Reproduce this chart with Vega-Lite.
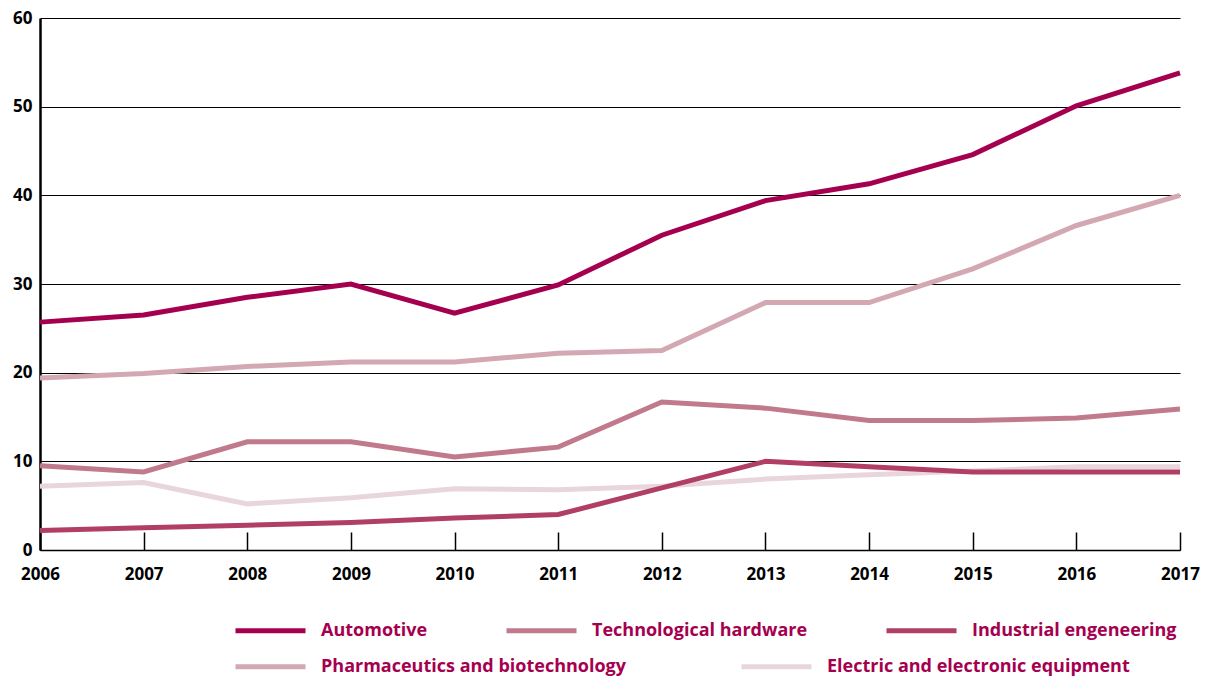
{
  "$schema": "https://vega.github.io/schema/vega-lite/v6.json",
  "width": 1140,
  "height": 532,
  "autosize": "none",
  "padding": {"left": 40, "top": 18, "right": 26, "bottom": 127},
  "background": "white",
  "config": {
    "view": {"stroke": null},
    "font": "Open Sans"
  },
  "data": {
    "values": [
      {"year": 2006, "sector": "Automotive", "value": 25.7},
      {"year": 2007, "sector": "Automotive", "value": 26.5},
      {"year": 2008, "sector": "Automotive", "value": 28.5},
      {"year": 2009, "sector": "Automotive", "value": 30.0},
      {"year": 2010, "sector": "Automotive", "value": 26.7},
      {"year": 2011, "sector": "Automotive", "value": 29.9},
      {"year": 2012, "sector": "Automotive", "value": 35.5},
      {"year": 2013, "sector": "Automotive", "value": 39.4},
      {"year": 2014, "sector": "Automotive", "value": 41.3},
      {"year": 2015, "sector": "Automotive", "value": 44.6},
      {"year": 2016, "sector": "Automotive", "value": 50.1},
      {"year": 2017, "sector": "Automotive", "value": 53.8},
      {"year": 2006, "sector": "Technological hardware", "value": 9.5},
      {"year": 2007, "sector": "Technological hardware", "value": 8.8},
      {"year": 2008, "sector": "Technological hardware", "value": 12.2},
      {"year": 2009, "sector": "Technological hardware", "value": 12.2},
      {"year": 2010, "sector": "Technological hardware", "value": 10.5},
      {"year": 2011, "sector": "Technological hardware", "value": 11.6},
      {"year": 2012, "sector": "Technological hardware", "value": 16.7},
      {"year": 2013, "sector": "Technological hardware", "value": 16.0},
      {"year": 2014, "sector": "Technological hardware", "value": 14.6},
      {"year": 2015, "sector": "Technological hardware", "value": 14.6},
      {"year": 2016, "sector": "Technological hardware", "value": 14.9},
      {"year": 2017, "sector": "Technological hardware", "value": 15.9},
      {"year": 2006, "sector": "Industrial engeneering", "value": 2.2},
      {"year": 2007, "sector": "Industrial engeneering", "value": 2.5},
      {"year": 2008, "sector": "Industrial engeneering", "value": 2.8},
      {"year": 2009, "sector": "Industrial engeneering", "value": 3.1},
      {"year": 2010, "sector": "Industrial engeneering", "value": 3.6},
      {"year": 2011, "sector": "Industrial engeneering", "value": 4.0},
      {"year": 2012, "sector": "Industrial engeneering", "value": 7.0},
      {"year": 2013, "sector": "Industrial engeneering", "value": 10.0},
      {"year": 2014, "sector": "Industrial engeneering", "value": 9.4},
      {"year": 2015, "sector": "Industrial engeneering", "value": 8.8},
      {"year": 2016, "sector": "Industrial engeneering", "value": 8.8},
      {"year": 2017, "sector": "Industrial engeneering", "value": 8.8},
      {"year": 2006, "sector": "Pharmaceutics and biotechnology", "value": 19.4},
      {"year": 2007, "sector": "Pharmaceutics and biotechnology", "value": 19.9},
      {"year": 2008, "sector": "Pharmaceutics and biotechnology", "value": 20.7},
      {"year": 2009, "sector": "Pharmaceutics and biotechnology", "value": 21.2},
      {"year": 2010, "sector": "Pharmaceutics and biotechnology", "value": 21.2},
      {"year": 2011, "sector": "Pharmaceutics and biotechnology", "value": 22.2},
      {"year": 2012, "sector": "Pharmaceutics and biotechnology", "value": 22.5},
      {"year": 2013, "sector": "Pharmaceutics and biotechnology", "value": 27.9},
      {"year": 2014, "sector": "Pharmaceutics and biotechnology", "value": 27.9},
      {"year": 2015, "sector": "Pharmaceutics and biotechnology", "value": 31.7},
      {"year": 2016, "sector": "Pharmaceutics and biotechnology", "value": 36.6},
      {"year": 2017, "sector": "Pharmaceutics and biotechnology", "value": 40.0},
      {"year": 2006, "sector": "Electric and electronic equipment", "value": 7.2},
      {"year": 2007, "sector": "Electric and electronic equipment", "value": 7.6},
      {"year": 2008, "sector": "Electric and electronic equipment", "value": 5.2},
      {"year": 2009, "sector": "Electric and electronic equipment", "value": 5.9},
      {"year": 2010, "sector": "Electric and electronic equipment", "value": 6.9},
      {"year": 2011, "sector": "Electric and electronic equipment", "value": 6.8},
      {"year": 2012, "sector": "Electric and electronic equipment", "value": 7.2},
      {"year": 2013, "sector": "Electric and electronic equipment", "value": 8.0},
      {"year": 2014, "sector": "Electric and electronic equipment", "value": 8.5},
      {"year": 2015, "sector": "Electric and electronic equipment", "value": 8.9},
      {"year": 2016, "sector": "Electric and electronic equipment", "value": 9.4},
      {"year": 2017, "sector": "Electric and electronic equipment", "value": 9.4}
    ]
  },
  "encoding": {
    "x": {
      "field": "year",
      "type": "quantitative",
      "scale": {"domain": [2006, 2017], "nice": false, "zero": false},
      "axis": {
        "title": null,
        "values": [2006, 2007, 2008, 2009, 2010, 2011, 2012, 2013, 2014, 2015, 2016, 2017],
        "format": "d",
        "grid": false,
        "domainColor": "#000000",
        "domainWidth": 1.5,
        "tickColor": "#000000",
        "tickWidth": 1.5,
        "tickSize": -18,
        "labelPadding": 34,
        "labelFont": "Open Sans",
        "labelFontWeight": "bold",
        "labelFontSize": 17,
        "labelColor": "#000000",
        "labelFlush": false
      }
    },
    "y": {
      "field": "value",
      "type": "quantitative",
      "scale": {"domain": [0, 60], "nice": false},
      "axis": {
        "title": null,
        "values": [0, 10, 20, 30, 40, 50, 60],
        "grid": true,
        "gridColor": "#000000",
        "gridWidth": 1,
        "gridOpacity": 1,
        "ticks": false,
        "domainColor": "#000000",
        "domainWidth": 2.5,
        "labelPadding": 8,
        "labelFont": "Open Sans",
        "labelFontWeight": "bold",
        "labelFontSize": 17,
        "labelColor": "#000000"
      }
    }
  },
  "layer": [
    {
      "transform": [{"filter": {"field": "sector", "oneOf": ["Pharmaceutics and biotechnology", "Electric and electronic equipment"]}}],
      "mark": {"type": "line", "strokeWidth": 5, "strokeJoin": "miter"},
      "encoding": {
        "stroke": {
          "field": "sector",
          "type": "nominal",
          "sort": ["Pharmaceutics and biotechnology", "Electric and electronic equipment"],
          "scale": {
            "domain": ["Pharmaceutics and biotechnology", "Electric and electronic equipment"],
            "range": ["#d3a8b3", "#e8d6dc"]
          },
          "legend": {
            "title": null,
            "orient": "none",
            "legendX": 193,
            "legendY": 611,
            "direction": "horizontal",
            "columns": 2,
            "gridAlign": "each",
            "columnPadding": 105,
            "symbolType": "stroke",
            "symbolSize": 4900,
            "symbolStrokeWidth": 5,
            "labelOffset": 13,
            "labelFont": "Open Sans",
            "labelFontWeight": "bold",
            "labelFontSize": 18,
            "labelColor": "#a5004f",
            "labelLimit": 500
          }
        }
      }
    },
    {
      "transform": [{"filter": {"field": "sector", "oneOf": ["Automotive", "Technological hardware", "Industrial engeneering"]}}],
      "mark": {"type": "line", "strokeWidth": 5, "strokeJoin": "miter"},
      "encoding": {
        "color": {
          "field": "sector",
          "type": "nominal",
          "sort": ["Automotive", "Technological hardware", "Industrial engeneering"],
          "scale": {
            "domain": ["Automotive", "Technological hardware", "Industrial engeneering"],
            "range": ["#a5004f", "#c07a8c", "#b03e66"]
          },
          "legend": {
            "title": null,
            "orient": "none",
            "legendX": 193,
            "legendY": 575,
            "direction": "horizontal",
            "columns": 3,
            "gridAlign": "each",
            "columnPadding": 68,
            "symbolType": "stroke",
            "symbolSize": 4900,
            "symbolStrokeWidth": 5,
            "labelOffset": 13,
            "labelFont": "Open Sans",
            "labelFontWeight": "bold",
            "labelFontSize": 18,
            "labelColor": "#a5004f",
            "labelLimit": 500
          }
        }
      }
    }
  ]
}
